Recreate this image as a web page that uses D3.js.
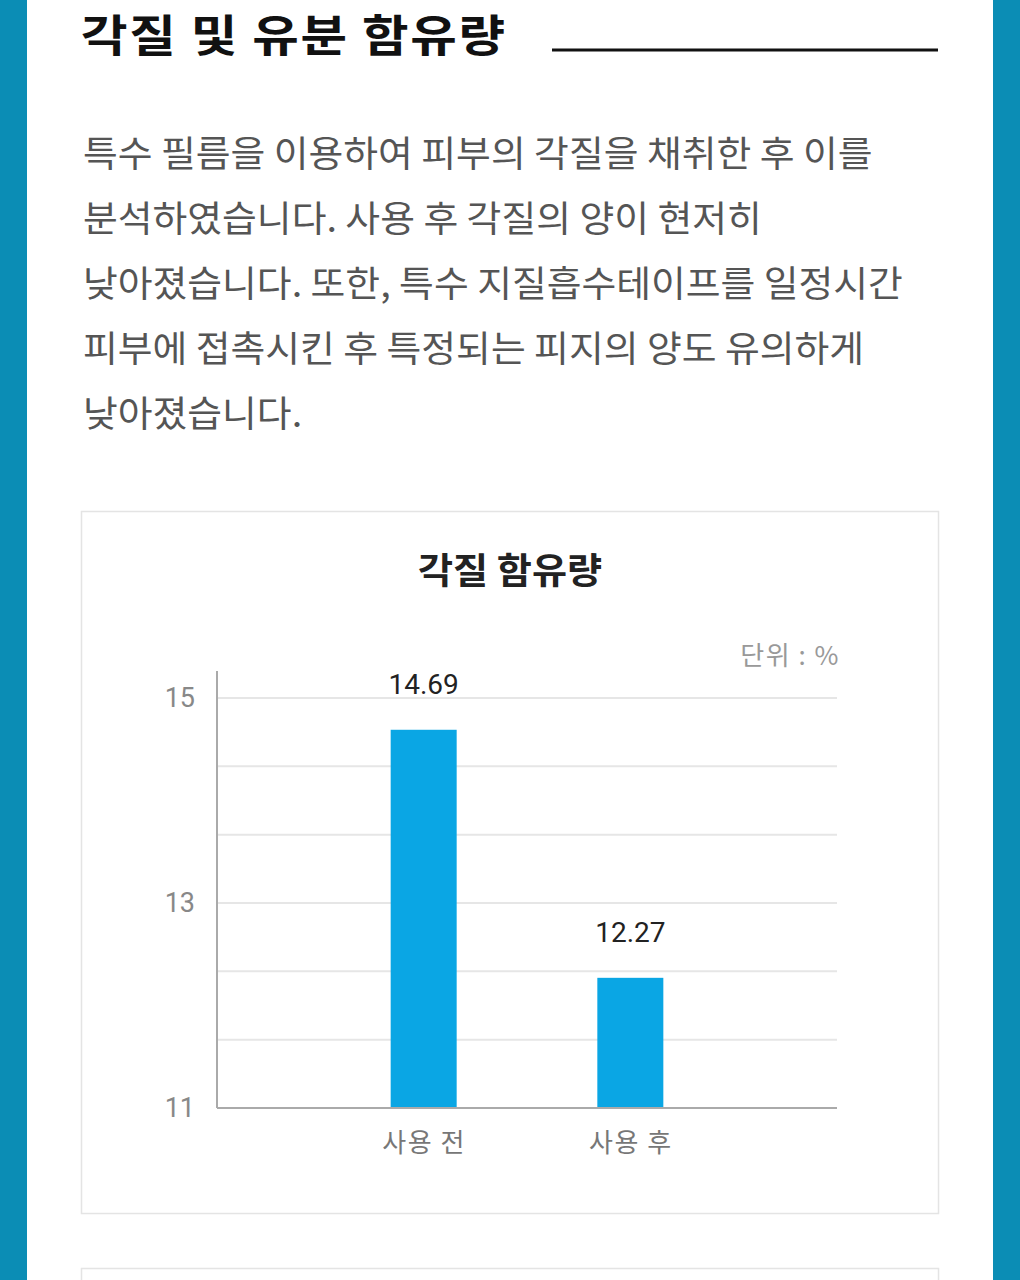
<!DOCTYPE html>
<html><head><meta charset="utf-8">
<script src="https://cdn.jsdelivr.net/npm/d3@7"></script>
<style>
html,body{margin:0;padding:0;background:#fff;}
svg{display:block;}
</style></head>
<body>
<div id="chart"></div>
<script>
const pageTitle = "각질 및 유분 함유량";
const bodyLines = [
  "특수 필름을 이용하여 피부의 각질을 채취한 후 이를",
  "분석하였습니다. 사용 후 각질의 양이 현저히",
  "낮아졌습니다. 또한, 특수 지질흡수테이프를 일정시간",
  "피부에 접촉시킨 후 특정되는 피지의 양도 유의하게",
  "낮아졌습니다."
];
const chartTitle = "각질 함유량";
const unitLabel = "단위 : %";
const categories = ["사용 전", "사용 후"];
const values = [14.69, 12.27];
const valueLabels = ["14.69", "12.27"];
const yTickLabels = [15, 13, 11];
const yGridValues = [11, 11 + 2/3, 11 + 4/3, 13, 13 + 2/3, 13 + 4/3, 15];

const W = 1020, H = 1280;
const KR = "'Noto Sans CJK KR','Noto Sans',sans-serif";
const NUM = "Roboto,'Noto Sans',sans-serif";

const svg = d3.select("#chart").append("svg").attr("width", W).attr("height", H);

// side bars
svg.append("rect").attr("x", 0).attr("y", 0).attr("width", 27).attr("height", H).attr("fill", "#0b8db5");
svg.append("rect").attr("x", 993).attr("y", 0).attr("width", 27).attr("height", H).attr("fill", "#0b8db5");

// page title
svg.append("g").attr("transform", "translate(81,52) scale(1.15,1)")
  .append("text").attr("x", 0).attr("y", 0)
  .attr("font-family", KR).attr("font-weight", 700).attr("font-size", 44)
  .attr("letter-spacing", 1.5)
  .attr("fill", "#111").text(pageTitle);
svg.append("line").attr("x1", 552).attr("x2", 938).attr("y1", 50).attr("y2", 50)
  .attr("stroke", "#111").attr("stroke-width", 3);

// body text
const body = svg.append("g");
bodyLines.forEach((line, i) => {
  body.append("g").attr("transform", `translate(83,${167 + i * 65}) scale(1.05,1)`)
    .append("text").attr("x", 0).attr("y", 0)
    .attr("font-family", KR).attr("font-size", 36).attr("font-weight", 400)
    .attr("fill", "#555").text(line);
});

// card
svg.append("rect").attr("x", 81.5).attr("y", 511.5).attr("width", 857).attr("height", 702)
  .attr("fill", "#fff").attr("stroke", "#e4e4e4").attr("stroke-width", 1.5);
svg.append("rect").attr("x", 81.5).attr("y", 1268.5).attr("width", 857).attr("height", 40)
  .attr("fill", "#fff").attr("stroke", "#e4e4e4").attr("stroke-width", 1.5);

// chart title
svg.append("g").attr("transform", "translate(510,584) scale(1.06,1)")
  .append("text").attr("text-anchor", "middle")
  .attr("font-family", KR).attr("font-weight", 700).attr("font-size", 36)
  .attr("fill", "#222").text(chartTitle);
svg.append("text").attr("x", 840).attr("y", 665).attr("text-anchor", "end")
  .attr("font-family", KR).attr("font-size", 26).attr("letter-spacing", 1.5)
  .attr("fill", "#999").text(unitLabel);

// scales
const plotL = 217, plotR = 837, plotT = 698, plotB = 1108;
const y = d3.scaleLinear().domain([11, 15]).range([plotB, plotT]);
const x = d3.scalePoint().domain(categories).range([plotL, plotR]).padding(1);
const barW = 66;

// grid
svg.append("g").selectAll("line").data(yGridValues.filter(v => v > 11)).join("line")
  .attr("x1", plotL).attr("x2", plotR)
  .attr("y1", d => y(d)).attr("y2", d => y(d))
  .attr("stroke", "#e6e6e6").attr("stroke-width", 2);

// y axis
const yAxis = d3.axisLeft(y).tickValues(yTickLabels).tickSize(0).tickPadding(22).tickFormat(d3.format("d"));
const gy = svg.append("g").attr("transform", `translate(${plotL},0)`).call(yAxis);
gy.select(".domain").remove();
gy.selectAll("text").attr("font-family", NUM).attr("font-size", 27).attr("fill", "#888");
svg.append("line").attr("x1", plotL).attr("x2", plotL).attr("y1", 671).attr("y2", plotB)
  .attr("stroke", "#aaa").attr("stroke-width", 2);

// x axis
const xAxis = d3.axisBottom(x).tickSize(0).tickPadding(26);
const gx = svg.append("g").attr("transform", `translate(0,${plotB})`).call(xAxis);
gx.select(".domain").remove();
gx.selectAll("text").attr("font-family", KR).attr("font-size", 26).attr("letter-spacing", 1.5).attr("fill", "#777");

// bars
svg.append("g").selectAll("rect").data(values).join("rect")
  .attr("x", (d, i) => x(categories[i]) - barW / 2)
  .attr("y", d => y(d))
  .attr("width", barW)
  .attr("height", d => plotB - y(d))
  .attr("fill", "#0aa6e4");
svg.append("line").attr("x1", plotL).attr("x2", plotR).attr("y1", plotB).attr("y2", plotB)
  .attr("stroke", "#aaa").attr("stroke-width", 2);

// value labels
svg.append("g").selectAll("text").data(values).join("text")
  .attr("x", (d, i) => x(categories[i]))
  .attr("y", d => y(d) - 36)
  .attr("text-anchor", "middle")
  .attr("font-family", NUM).attr("font-size", 28).attr("fill", "#222")
  .text((d, i) => valueLabels[i]);
</script>
</body></html>
